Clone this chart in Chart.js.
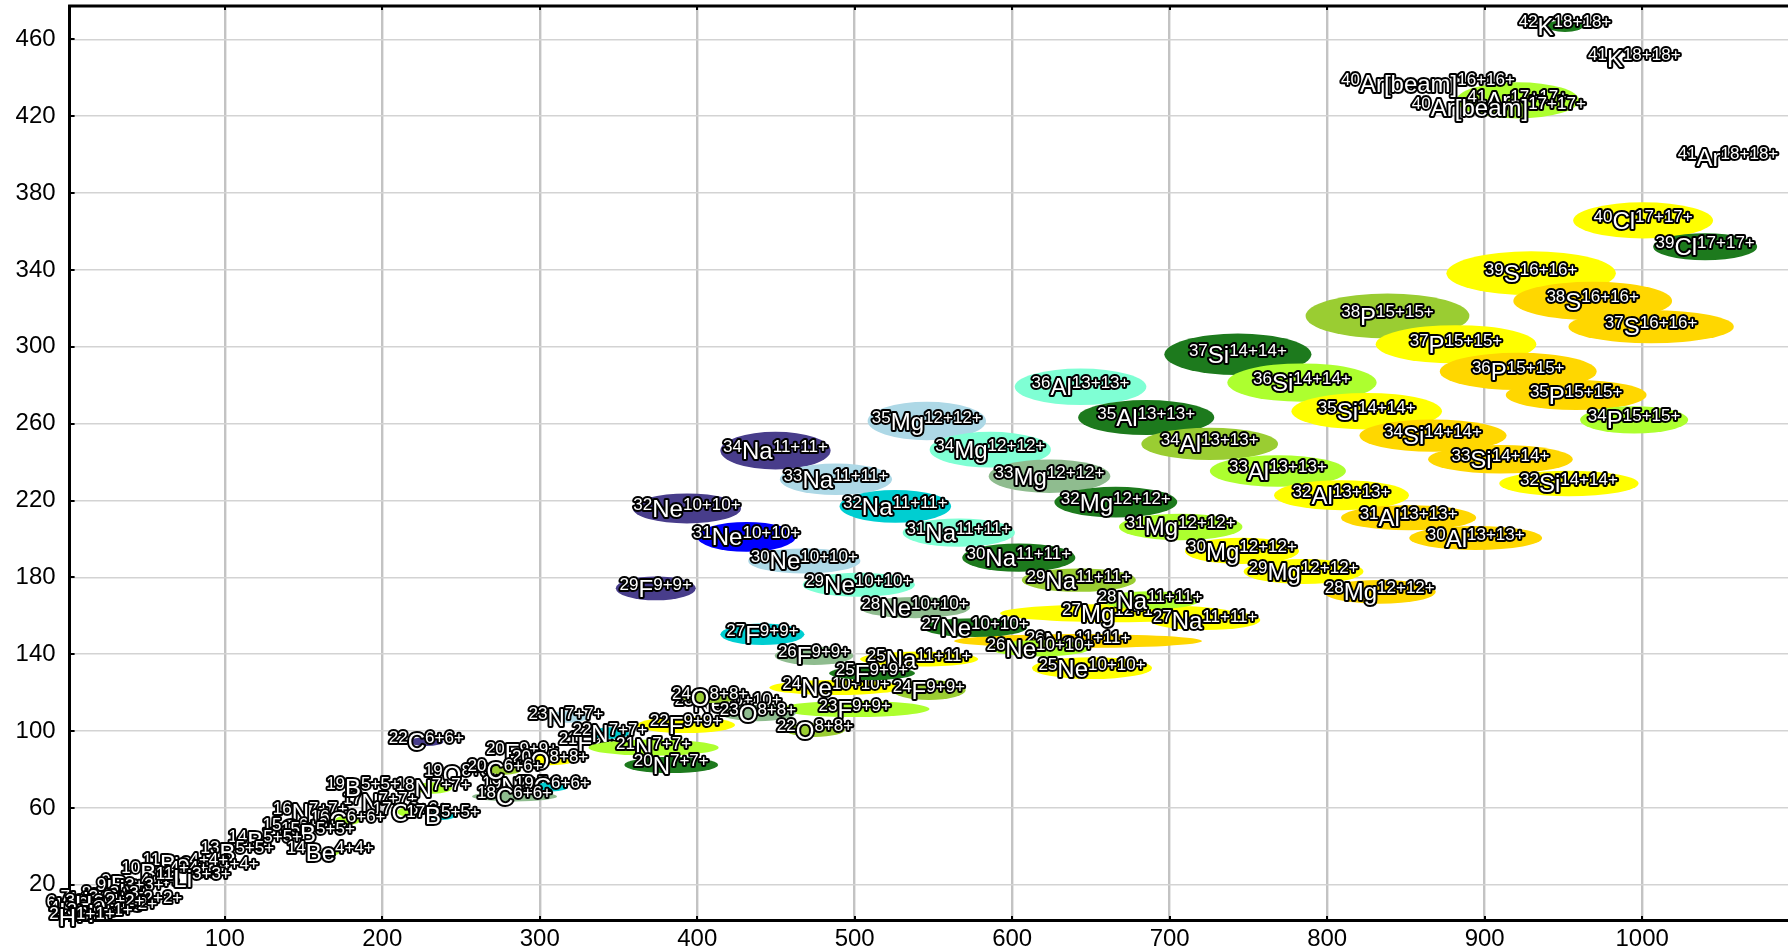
<!DOCTYPE html>
<html>
<head>
<meta charset="utf-8">
<title>Particle identification: ΔE vs E</title>
<script src="https://cdn.jsdelivr.net/npm/chart.js@4.4.1/dist/chart.umd.min.js"></script>
<style>
  html, body { margin: 0; padding: 0; background: #ffffff; }
  #wrap { width: 1788px; height: 952px; }
</style>
</head>
<body>
<div id="wrap"><canvas id="pid" width="1788" height="952"></canvas></div>
<script>
// Nuclide gates: centre (E, ΔE), half-widths in E and ΔE, charge state.
// Ordered by element (heaviest first), then mass (heaviest first).
const nuclide = [
  '42K', '41K',
  '41Ar', '41Ar', '40Ar[beam]', '40Ar[beam]',
  '40Cl', '39Cl',
  '39S', '38S', '37S',
  '38P', '37P', '36P', '35P', '34P',
  '37Si', '36Si', '35Si', '34Si', '33Si', '32Si',
  '36Al', '35Al', '34Al', '33Al', '32Al', '31Al', '30Al',
  '35Mg', '34Mg', '33Mg', '32Mg', '31Mg', '30Mg', '29Mg', '28Mg', '27Mg',
  '34Na', '33Na', '32Na', '31Na', '30Na', '29Na', '28Na', '27Na', '26Na', '25Na',
  '32Ne', '31Ne', '30Ne', '29Ne', '28Ne', '27Ne', '26Ne', '25Ne', '24Ne', '23Ne',
  '29F', '27F', '26F', '25F', '24F', '23F', '22F', '21F', '20F',
  '24O', '23O', '22O', '20O', '19O',
  '23N', '22N', '21N', '20N', '19N', '18N', '17N', '16N',
  '22C', '20C', '19C', '18C', '17C', '16C', '15C',
  '19B', '17B', '15B', '14B', '13B',
  '14Be', '12Be', '11Be', '10Be', '9Be',
  '11Li', '9Li', '8Li', '7Li', '6Li',
  '8He', '6He', '4He', '3He',
  '3H', '2H'
];
const charge = [
  18, 18,
  17, 18, 16, 17,
  17, 17,
  16, 16, 16,
  15, 15, 15, 15, 15,
  14, 14, 14, 14, 14, 14,
  13, 13, 13, 13, 13, 13, 13,
  12, 12, 12, 12, 12, 12, 12, 12, 12,
  11, 11, 11, 11, 11, 11, 11, 11, 11, 11,
  10, 10, 10, 10, 10, 10, 10, 10, 10, 10,
  9, 9, 9, 9, 9, 9, 9, 9, 9,
  8, 8, 8, 8, 8,
  7, 7, 7, 7, 7, 7, 7, 7,
  6, 6, 6, 6, 6, 6, 6,
  5, 5, 5, 5, 5,
  4, 4, 4, 4, 4,
  3, 3, 3, 3, 3,
  2, 2, 2, 2,
  1, 1
];
// Residual energy E (channels)
const energyE = [
  951, 995,
  921, 1054.5, 864, 909,
  1000.6, 1040,
  929.5, 968.6, 1005.7,
  838.3, 881.8, 921.3, 958.1, 994.9,
  743.3, 784, 825.1, 867.2, 910, 953.5,
  643.4, 685.1, 725.4, 768.7, 809.1, 851.7, 894.3,
  545.8, 586.1, 623.7, 665.8, 707, 745.9, 785, 833.4, 666.6,
  449.7, 488.1, 525.8, 566.1, 604.2, 642.3, 687.5, 722.5, 641.8, 540.9,
  393.5, 431.3, 468, 502.6, 538.3, 576.4, 617.7, 650.7, 488.1, 419.6,
  373.7, 441.4, 474.2, 511, 547.1, 500, 392.9, 335, 288.8,
  408.2, 438.6, 474.8, 306.6, 250.7,
  316.7, 344.6, 372.3, 383.5, 287.4, 232.3, 198.6, 154.3,
  228, 278, 308, 284, 217.7, 178.3, 147.8,
  187.8, 238.6, 159.2, 125.7, 108,
  167, 94, 75, 62, 46.3,
  80, 40, 30.4, 17, 8,
  48, 32, 14, 24,
  20.8, 9.4
];
// Energy loss ΔE (channels)
const deltaE = [
  467, 450,
  428.3, 398.7, 437.2, 424.7,
  365.8, 352.1,
  338.3, 323.9, 310.5,
  316.1, 301.3, 287.2, 274.9, 262,
  296.1, 281.4, 266.5, 253.8, 241.5, 228.9,
  279.2, 263.2, 249.5, 235.4, 222.8, 211.1, 200.5,
  261.4, 246.5, 232.7, 219.2, 206.3, 193.8, 183.1, 172.5, 161.4,
  246, 231.1, 217, 203.3, 190.3, 178.6, 168.1, 157.8, 146.9, 137.5,
  215.9, 201.1, 188.6, 176.2, 164.3, 153.9, 143.1, 132.8, 122.7, 114.5,
  174.3, 150.4, 139.2, 130.1, 121.4, 111.5, 103.2, 94, 89,
  117.7, 109.4, 100.6, 84.9, 77.5,
  107.3, 99, 91.4, 82.4, 71.3, 70.4, 63, 57.8,
  94.5, 79.8, 71.1, 66, 57.9, 53.7, 49.4,
  70.8, 56.3, 47, 43.1, 37.1,
  37.1, 28.8, 31, 26.7, 20,
  23.6, 18, 13.7, 12, 9,
  11.1, 8, 6, 10,
  4.9, 2.8
];
// Gate half-widths in E and in ΔE (channels)
const sigmaE = [
  11.5, 0,
  39, 0, 0, 0,
  44.4, 33,
  53.8, 50.4, 52.5,
  52, 51, 49.8, 44.7, 34.3,
  46.7, 47.4, 47.8, 46.7, 45.9, 44.2,
  41.8, 43.2, 43.4, 43.2, 42.8, 42.9, 42.2,
  37.6, 38.5, 38.6, 39, 39.2, 36.2, 38, 35.5, 74.3,
  35, 35.6, 35.4, 35.6, 35.9, 36.2, 31.7, 35, 78.7, 37.5,
  34.3, 31.2, 35.6, 35.6, 34.9, 33, 31.7, 38.1, 42.3, 0,
  25.4, 26.7, 25, 27.3, 23.4, 47.5, 31.1, 0, 0,
  18, 24.1, 19, 16, 0,
  14, 12, 41.3, 29.8, 0, 12, 0, 0,
  10.8, 10, 10, 27, 8, 8, 0,
  0, 8, 0, 0, 0,
  6, 0, 0, 0, 0,
  0, 0, 0, 0, 0,
  0, 0, 0, 0,
  0, 0
];
const sigmaDE = [
  3.1, 0,
  9.4, 0, 0, 0,
  9.4, 7,
  11.4, 10, 8.6,
  11.7, 10, 9.7, 7.8, 7.1,
  10.8, 10, 9.5, 8.4, 7.4, 6.6,
  9.5, 9.1, 8.4, 8.2, 7.8, 6.5, 6.2,
  10, 9.3, 8.7, 8, 6.9, 6.8, 6.5, 6.2, 4.7,
  9.8, 8.2, 8.5, 7.4, 7.4, 6.1, 4.7, 5.2, 3.6, 3.9,
  7.8, 7.8, 6.5, 6.2, 5.5, 4.9, 4.2, 5.7, 3.9, 0,
  6.2, 5.6, 4.8, 3.5, 5.2, 4.2, 4.2, 0, 0,
  3, 4.2, 3.6, 2.6, 0,
  3, 3, 4.2, 4.2, 0, 3, 0, 0,
  2.3, 2.5, 2.5, 2.6, 2.5, 2.5, 0,
  0, 2.5, 0, 0, 0,
  2, 0, 0, 0, 0,
  0, 0, 0, 0, 0,
  0, 0, 0, 0,
  0, 0
];
// Gate fill colours (style list, one per gate)
const DG = '#1d7a1d', YG = '#9acd32', GY = '#adff2f', Y = '#ffff00', GO = '#ffd700',
      AQ = '#7fffd4', LB = '#add8e6', DSG = '#8fbc8f', DT = '#00ced1', DSB = '#483d8b', BL = '#0000ff';
const gateFill = [
  DG, DG,
  GY, GY, GY, GY,
  Y, DG,
  Y, GO, GO,
  YG, Y, GO, GO, GY,
  DG, GY, Y, GO, GO, Y,
  AQ, DG, YG, GY, Y, GO, GO,
  LB, AQ, DSG, DG, GY, Y, Y, GO, Y,
  DSB, LB, DT, AQ, DG, YG, GY, Y, GO, Y,
  DSB, BL, LB, AQ, DSG, DG, GY, Y, Y, GY,
  DSB, DT, DSG, DG, YG, GY, Y, GY, GY,
  YG, DSG, YG, Y, GY,
  LB, DT, GY, DG, GY, GY, GY, GY,
  DSB, YG, DT, DSG, GY, GY, GY,
  GY, DT, GY, GY, GY,
  GY, GY, GY, GY, GY,
  GY, GY, GY, GY, GY,
  GY, GY, GY, GY,
  GY, GY
];
const xTicks = [100, 200, 300, 400, 500, 600, 700, 800, 900, 1000];
const yTicks = [20, 60, 100, 140, 180, 220, 260, 300, 340, 380, 420, 460];

const FAMILY = '"Liberation Sans", Arial, Helvetica, sans-serif';
const SUP_FONT = '17px ' + FAMILY;
const MAIN_FONT = '24px ' + FAMILY;

// Draws "^A Sym ^q+q+" in white with a black outline, centred on (cx, cy)
function drawTag(ctx, cx, cy, name, q) {
  const m = name.match(/^(\d+)(.+)$/);
  const parts = [
    { t: m[1], f: SUP_FONT, dy: 1.5 },
    { t: m[2], f: MAIN_FONT, dy: 8.6 },
    { t: q + '+' + q + '+', f: SUP_FONT, dy: 1.5 }
  ];
  let total = 0;
  parts.forEach(p => { ctx.font = p.f; p.w = ctx.measureText(p.t).width; total += p.w; });
  let x = cx - total / 2;
  parts.forEach(p => { p.x = x; x += p.w; });
  ctx.textAlign = 'left';
  ctx.textBaseline = 'alphabetic';
  ctx.lineJoin = 'round';
  ctx.lineWidth = 4;
  ctx.strokeStyle = '#000';
  parts.forEach(p => { ctx.font = p.f; ctx.strokeText(p.t, p.x, cy + p.dy); });
  ctx.fillStyle = '#fff';
  parts.forEach(p => { ctx.font = p.f; ctx.fillText(p.t, p.x, cy + p.dy); });
}

const gatePlugin = {
  id: 'gates',
  afterDatasetsDraw(chart) {
    const { ctx, chartArea: a, scales: { x, y } } = chart;
    ctx.save();
    for (let i = 0; i < nuclide.length; i++) {
      const cx = x.getPixelForValue(energyE[i]);
      const cy = y.getPixelForValue(deltaE[i]);
      const rx = Math.abs(x.getPixelForValue(energyE[i] + sigmaE[i]) - cx);
      const ry = Math.abs(y.getPixelForValue(deltaE[i] + sigmaDE[i]) - cy);
      if (rx > 0 && ry > 0) {
        ctx.save();
        ctx.beginPath();
        ctx.rect(a.left, a.top, a.right - a.left, a.bottom - a.top);
        ctx.clip();
        ctx.beginPath();
        ctx.ellipse(cx, cy, rx, ry, 0, 0, Math.PI * 2);
        ctx.fillStyle = gateFill[i];
        ctx.fill();
        ctx.restore();
      }
      drawTag(ctx, cx, cy, nuclide[i], charge[i]);
    }
    ctx.restore();
  }
};

// Top frame line and short inner tick marks on the frame
const framePlugin = {
  id: 'frame',
  afterDraw(chart) {
    const { ctx, chartArea: a, scales: { x, y } } = chart;
    ctx.save();
    ctx.strokeStyle = '#000';
    ctx.lineWidth = 3;
    ctx.beginPath();
    ctx.moveTo(a.left - 1.5, a.top);
    ctx.lineTo(a.right, a.top);
    ctx.stroke();
    ctx.lineWidth = 2;
    ctx.beginPath();
    xTicks.forEach(v => {
      const px = Math.round(x.getPixelForValue(v));
      ctx.moveTo(px, a.bottom); ctx.lineTo(px, a.bottom - 4);
      ctx.moveTo(px, a.top); ctx.lineTo(px, a.top + 4);
    });
    yTicks.forEach(v => {
      const py = Math.round(y.getPixelForValue(v));
      ctx.moveTo(a.left, py); ctx.lineTo(a.left + 5, py);
    });
    ctx.stroke();
    ctx.restore();
  }
};

new Chart(document.getElementById('pid'), {
  type: 'scatter',
  data: {
    datasets: [{
      data: energyE.map((e, i) => ({ x: e, y: deltaE[i] })),
      pointRadius: 0,
      pointHoverRadius: 0
    }]
  },
  options: {
    responsive: false,
    animation: false,
    devicePixelRatio: 1,
    events: [],
    layout: { padding: { top: 6, right: 0, bottom: 0, left: 0 } },
    plugins: { legend: { display: false }, tooltip: { enabled: false } },
    scales: {
      x: {
        type: 'linear',
        bounds: 'data',
        min: 1.5,
        max: 1092.6,
        afterBuildTicks: s => { s.ticks = xTicks.map(v => ({ value: v })); },
        afterFit: s => { s.height = 32; s.paddingLeft = 0; s.paddingRight = 0; },
        grid: { color: '#c3c3c3', lineWidth: 2.4, drawTicks: false },
        border: { display: true, color: '#000', width: 3 },
        ticks: { color: '#000', padding: 5, maxRotation: 0, autoSkip: false,
                 callback: v => String(v),
                 font: { family: FAMILY, size: 24 } }
      },
      y: {
        type: 'linear',
        bounds: 'data',
        min: 1.7,
        max: 477.4,
        afterBuildTicks: s => { s.ticks = yTicks.map(v => ({ value: v })); },
        afterFit: s => { s.width = 69.6; s.paddingTop = 0; s.paddingBottom = 0; },
        grid: { color: '#d3d3d3', lineWidth: 1.6, drawTicks: false },
        border: { display: true, color: '#000', width: 3 },
        ticks: { color: '#000', padding: 14, autoSkip: false,
                 callback: v => String(v),
                 font: { family: FAMILY, size: 24 } }
      }
    }
  },
  plugins: [gatePlugin, framePlugin]
});
</script>
</body>
</html>
